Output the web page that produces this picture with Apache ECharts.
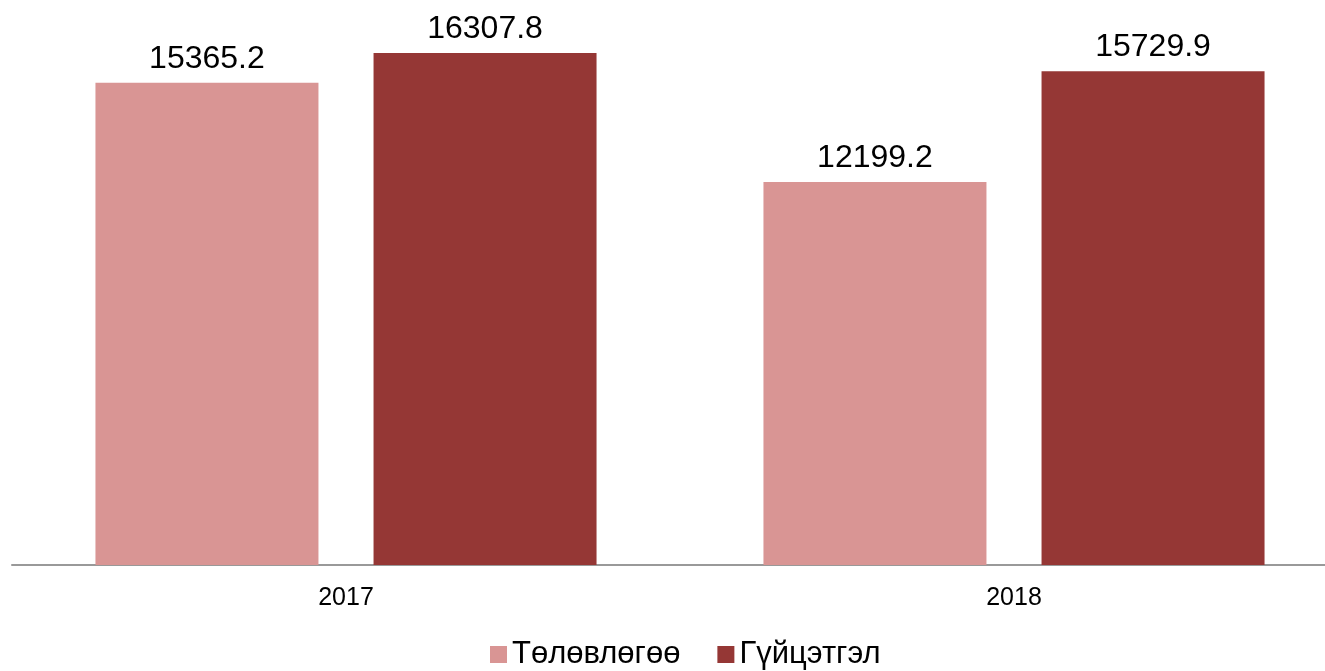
<!DOCTYPE html>
<html>
<head>
<meta charset="utf-8">
<script src="https://cdn.jsdelivr.net/npm/echarts@6/dist/echarts.min.js"></script>
<style>
  html, body { margin: 0; padding: 0; background: #fff; }
  #chart { width: 1325px; height: 671px; }
</style>
</head>
<body>
<div id="chart"></div>
<script>
  // chart data
  var years = ['2017', '2018'];
  var planValues = [15365.2, 12199.2];
  var actualValues = [16307.8, 15729.9];
  var seriesNames = ['Төлөвлөгөө', 'Гүйцэтгэл'];

  var chart = echarts.init(document.getElementById('chart'));

  var labelStyle = {
    show: true,
    position: 'top',
    distance: 8,
    fontSize: 32,
    color: '#000',
    fontFamily: 'Liberation Sans, Arial, sans-serif',
    formatter: function (p) { return p.value.toFixed(1); }
  };

  var option = {
    animation: false,
    textStyle: { fontFamily: 'Liberation Sans, Arial, sans-serif' },
    grid: {
      left: 12,
      top: 0,
      right: -23,
      height: 565,
      outerBoundsMode: 'none'
    },
    legend: {
      data: seriesNames,
      left: 485,
      top: 634,
      itemWidth: 17,
      itemHeight: 17,
      itemGap: 37,
      icon: 'rect',
      textStyle: { fontSize: 31, color: '#000' }
    },
    xAxis: {
      type: 'category',
      data: years,
      axisLine: { lineStyle: { color: '#999', width: 2 } },
      axisTick: { show: false },
      axisLabel: { fontSize: 25, color: '#000', margin: 21 }
    },
    yAxis: {
      type: 'value',
      min: 0,
      max: 18000,
      show: false,
      splitLine: { show: false }
    },
    series: [{
      name: seriesNames[0],
      type: 'bar',
      data: planValues,
      barWidth: 223,
      barGap: '24.7%',
      itemStyle: { color: '#D99594' },
      label: labelStyle
    }, {
      name: seriesNames[1],
      type: 'bar',
      data: actualValues,
      barWidth: 223,
      barGap: '24.7%',
      itemStyle: { color: '#953735' },
      label: labelStyle
    }]
  };

  chart.setOption(option);
</script>
</body>
</html>
